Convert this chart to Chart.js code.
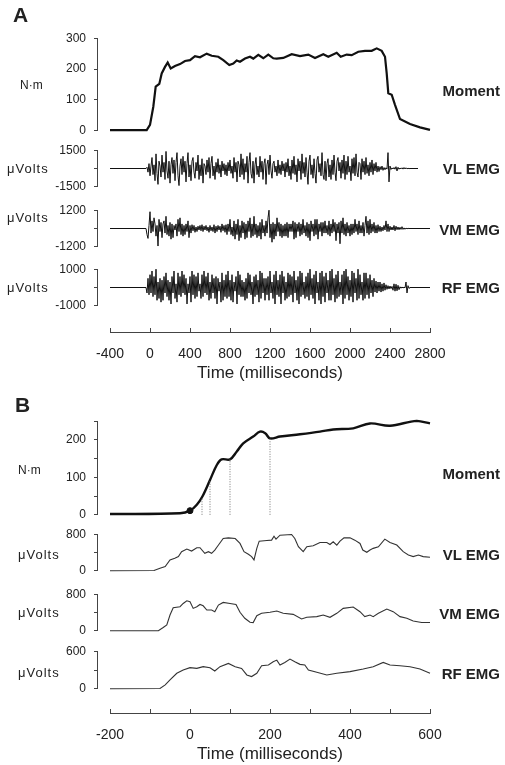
<!DOCTYPE html>
<html>
<head>
<meta charset="utf-8">
<script src="https://cdn.jsdelivr.net/npm/chart.js@4.4.1/dist/chart.umd.min.js"></script>
<style>
  body { margin: 0; background: #fff; }
  #fig { position: relative; width: 505px; height: 765px; overflow: hidden;
         font-family: "Liberation Sans", Arial, Helvetica, sans-serif; color: #222; }
  canvas { position: absolute; left: 0; }
  .lbl { position: absolute; line-height: 1; white-space: nowrap; transform: translateY(-50%); z-index: 2; }
  .unit { font-size: 12px; }
  .uv { font-size: 13px; letter-spacing: 1px; }
  .name { font-size: 15px; font-weight: bold; right: 5px; }
  .panel { font-size: 21px; font-weight: bold; transform: none; }
</style>
</head>
<body>
<div id="fig">
  <div class="lbl panel" style="left:13px;top:4px">A</div>
  <div class="lbl panel" style="left:15px;top:394px">B</div>

  <div class="lbl unit" style="left:20px;top:85px">N·m</div>
  <div class="lbl uv" style="left:7px;top:168px">μVolts</div>
  <div class="lbl uv" style="left:7px;top:217px">μVolts</div>
  <div class="lbl uv" style="left:7px;top:287px">μVolts</div>
  <div class="lbl name" style="top:90px">Moment</div>
  <div class="lbl name" style="top:168px">VL EMG</div>
  <div class="lbl name" style="top:229px">VM EMG</div>
  <div class="lbl name" style="top:287px">RF EMG</div>

  <div class="lbl unit" style="left:18px;top:470px">N·m</div>
  <div class="lbl uv" style="left:18px;top:554px">μVolts</div>
  <div class="lbl uv" style="left:18px;top:612px">μVolts</div>
  <div class="lbl uv" style="left:18px;top:672px">μVolts</div>
  <div class="lbl name" style="top:473px">Moment</div>
  <div class="lbl name" style="top:554px">VL EMG</div>
  <div class="lbl name" style="top:613px">VM EMG</div>
  <div class="lbl name" style="top:673px">RF EMG</div>
</div>
<script>
// ---------- Panel A: whole contraction ----------
const momentTimeA = [-400, -33, 0, 33, 57, 93, 117, 150, 177, 207, 250, 300, 350, 400, 450, 500, 567, 617, 683, 733,
  793, 833, 867, 900, 950, 1000, 1033, 1083, 1133, 1183, 1233, 1267, 1333, 1417, 1500, 1583, 1650, 1733, 1783, 1867,
  1907, 1967, 2017, 2083, 2150, 2217, 2267, 2317, 2350, 2367, 2383, 2417, 2450, 2500, 2600, 2700, 2800];
const momentA = [2, 2, 19, 78, 143, 152, 186, 207, 221, 202, 210, 216, 226, 229, 242, 238, 250, 243, 240, 229,
  213, 218, 228, 224, 234, 240, 234, 246, 235, 247, 235, 234, 236, 248, 242, 247, 236, 248, 240, 253,
  240, 247, 245, 256, 259, 259, 267, 259, 240, 186, 122, 117, 84, 38, 22, 11, 3];

// raw EMG, sampled every 10 ms from -40 ms (one row = 200 ms); flat baseline before and after
const recordStartA = -400;
const emgStartA = -40;
const emgStepA = 10;
const vlEndA = 2680, vmEndA = 2800, rfEndA = 2800;
const vlRawA = [
  0, 100, -300, 400, -600, 200, 900, -500, 300, -1000, 1200, -400, -1300, 600, 200, -700, 1100, -300, 500, -900,
  1400, -200, -800, 600, -1200, 300, 900, -400, 700, -1000, 500, 1300, -600, -1400, 200, 800, -500, 1000, -300, 600,
  -1100, 400, 1300, -700, 300, -1000, 600, 900, -300, -800, 500, -200, 1100, -900, 300, -600, 800, -1200, 400, 200,
  -500, 700, -300, 900, -800, 400, 1000, -600, 200, -900, 500, -300, 800, -400, 300, -700, 600, -200, 400, -500,
  300, -600, 500, -200, 700, -400, 200, -800, 900, -300, 500, -1100, 600, 300, -700, 1200, -500, 800, -900, 400,
  -300, 1000, -1200, 500, 1300, -400, -800, 600, -1200, 300, 900, -500, 200, -700, 1000, -300, 600, -900, 400, 800,
  -1300, 300, 700, -500, 1100, -200, -800, 400, 600, -300, 200, -600, 700, -400, 300, -500, 600, -200, 400, -700,
  500, -300, 800, -600, 200, -900, 700, -400, 1000, -500, 300, -1100, 800, -200, 600, -900, 1200, -400, 500, -700,
  900, -300, -1300, 600, 1100, -500, 300, -800, 800, -400, -1200, 700, 1000, -300, 400, -600, 1300, -500, -900, 600,
  -1000, 400, 800, -700, 300, -900, 700, -500, 1100, -300, -1000, 600, 900, -200, 500, -800, 700, -400, 1100, -900,
  600, -500, 1000, -300, 200, -1000, 800, -400, 900, -600, 1200, -300, -700, 500, 400, -900, 800, -300, 600, -500,
  900, -400, 300, -600, 500, -300, 700, -500, 400, -200, 500, -300, 200, -250, 150, -100, 200, -150, 80, -100,
  60, -50, 1300, -1100, 200, -80, 50, -40, 80, -60, 150, -200, 100, -60, 40, -30, 60, -50, 80, -40,
  60, -30, 20, -10, 0];
const vmRawA = [
  0, -400, -650, 200, 1100, -300, 500, -200, 700, 300, -500, 200, -1150, 600, -200, 400, -600, 300, 500, -300,
  800, -400, 200, -500, 400, -700, 300, -600, 200, -100, 300, -500, 600, -200, 700, -400, 300, -500, 200, -400,
  300, -200, 500, -600, 200, -300, 250, -150, 200, -250, 100, -200, 150, -100, 200, -150, 250, -200, 150, -100,
  200, -150, 100, -250, 200, -150, 100, -200, 250, -300, 150, -200, 200, -100, 150, -250, 300, -150, 200, -250,
  250, -400, 300, -200, 600, -400, 100, -500, 500, -700, 300, -400, 600, -800, 200, -600, 500, -300, 400, -700,
  300, -600, 500, -200, 700, -600, 300, -500, 800, -400, 300, -600, 200, -500, 400, -700, 600, -300, 200, -500,
  500, -300, 700, 1200, -600, 300, -900, 400, -700, 300, -500, 700, -200, 400, -500, 300, -600, 200, -500, 300,
  -500, 400, -600, 300, -200, 300, -200, 500, -700, 400, -600, 300, -200, 400, -500, 300, -400, 600, -300, 200,
  -500, 400, -600, 300, -800, 500, -200, 300, -500, 600, -400, 600, -700, 300, -200, 400, -500, 400, -300, 500,
  -300, 200, -400, 500, -500, 300, -300, 600, -200, 400, -800, 300, -300, 400, -1000, 500, -300, 700, -400, 300,
  -500, 400, -300, 200, -500, 300, -400, 300, -300, 600, -200, 300, -400, 500, -300, 200, -300, 400, -500, 200,
  800, -300, 500, -400, 600, -300, 300, -200, 400, -300, 200, -300, 250, -200, 150, -200, 100, -150, 200, -100,
  500, -200, 300, -200, 150, -100, 100, -100, 200, -150, 150, -80, 100, -80, 80, -60, 120, -60, 40, -50,
  30, -20, 10, 0, 0];
const rfRawA = [
  0, -300, 500, -400, 700, -300, 900, -500, 600, -400, 1000, -700, 300, -600, 500, -800, 400, -700, 600, -300,
  800, -500, 400, -700, 300, -900, 600, -300, 900, -600, 200, -800, 800, -400, 600, -500, 900, -300, 700, -400,
  500, -900, 200, -300, 600, -800, 900, -400, 700, -600, 600, -500, 800, -200, 200, -600, 700, -500, 900, -300,
  600, -400, 800, -700, 300, -600, 700, -300, 500, -600, 600, -900, 500, -200, 300, -800, 800, -700, 400, -500,
  700, -600, 900, -500, 400, -700, 700, -800, 300, -200, 600, -900, 900, -400, 700, -500, 400, -500, 300, -700,
  500, -600, 800, -300, 700, -400, 300, -900, 600, -500, 700, -400, 400, -800, 900, -600, 800, -300, 500, -700,
  500, -400, 600, -700, 900, -300, 300, -600, 700, -900, 900, -400, 400, -500, 700, -900, 900, -300, 600, -700,
  300, -600, 800, -500, 700, -400, 600, -800, 900, -300, 400, -700, 600, -900, 900, -500, 800, -400, 300, -600,
  600, -500, 800, -700, 1000, -400, 500, -600, 700, -900, 900, -300, 300, -700, 800, -900, 900, -500, 600, -800,
  800, -300, 400, -700, 900, -700, 1000, -400, 500, -800, 700, -600, 900, -500, 300, -400, 700, -900, 900, -600,
  1000, -400, 600, -700, 400, -500, 900, -800, 800, -300, 500, -700, 1000, -600, 700, -400, 300, -700, 800, -600,
  800, -400, 500, -600, 700, -300, 400, -500, 500, -250, 350, -300, 300, -200, 300, -250, 200, -200, 250, -150,
  150, -100, 100, -80, 80, -60, 60, -150, 200, -200, 180, -180, 120, -120, 40, -40, 30, -30, 20, -20,
  300, -300, 100, -50, 0];

// ---------- Panel B: onset, smoothed EMG ----------
const momentTimeB = [-200, -25, 0, 17, 31, 50, 67, 79, 100, 117, 133, 158, 175, 188, 200, 225, 275, 325, 358, 408, 450, 500, 567, 600];
const momentB = [2, 4, 11, 27, 49, 93, 133, 148, 148, 169, 191, 209, 222, 218, 204, 209, 215, 222, 228, 231, 244, 238, 251, 244];
const onsetTime = [0];
const onsetMoment = [11];
const rfdTimes = [30, 50, 100, 200];
const rfdMoments = [46, 92, 148, 204];

const vlTimeB = [-200, -90, -75, -62, -50, -38, -29, -21, -8, 4, 17, 25, 37, 46, 54, 62, 68, 83, 96, 113,
  125, 135, 146, 154, 160, 167, 173, 192, 204, 210, 215, 225, 254, 262, 271, 283, 292, 308, 325, 342,
  350, 358, 367, 375, 385, 400, 412, 425, 432, 442, 450, 458, 471, 487, 500, 517, 533, 546, 558, 571, 583, 600];
const vlB = [0, 5, 58, 94, 238, 274, 310, 418, 476, 432, 505, 505, 382, 418, 382, 454, 526, 706, 720, 706,
  598, 418, 360, 310, 238, 490, 648, 663, 670, 757, 692, 778, 793, 706, 526, 418, 526, 547, 620, 620,
  576, 634, 562, 648, 720, 720, 670, 598, 454, 404, 454, 490, 526, 692, 620, 562, 418, 346, 310, 346, 310, 295];

const vmTimeB = [-200, -79, -67, -58, -50, -42, -25, -17, -8, 0, 8, 17, 25, 33, 42, 54, 62, 71, 83, 100,
  115, 125, 137, 150, 158, 167, 179, 200, 217, 233, 258, 279, 292, 317, 333, 350, 367, 383, 408, 425,
  437, 450, 458, 471, 492, 508, 525, 542, 558, 579, 600];
const vmB = [0, 0, 72, 130, 346, 504, 526, 598, 655, 634, 490, 526, 576, 547, 454, 454, 418, 562, 620, 598,
  576, 404, 274, 187, 180, 331, 382, 404, 432, 382, 360, 259, 295, 310, 346, 295, 382, 490, 519, 418,
  310, 346, 310, 382, 476, 418, 310, 274, 216, 180, 180];

const rfTimeB = [-200, -75, -62, -50, -33, -17, 0, 17, 33, 50, 62, 75, 96, 113, 129, 142, 154, 167, 179, 196,
  208, 217, 225, 237, 250, 262, 275, 287, 296, 317, 342, 367, 400, 433, 458, 483, 500, 525, 550, 575, 600];
const rfB = [0, 5, 63, 142, 248, 300, 337, 326, 353, 337, 284, 353, 405, 353, 326, 221, 195, 248, 369, 379,
  432, 458, 379, 421, 474, 432, 390, 379, 300, 263, 221, 248, 274, 316, 353, 421, 379, 369, 353, 316, 248];

// ---------- drawing ----------
Chart.defaults.font.family = '"Liberation Sans", Arial, Helvetica, sans-serif';
Chart.defaults.color = '#222';
const fig = document.getElementById('fig');
const INK = '#111';
const AXIS = '#444';

const pts = (xs, ys) => xs.map((x, i) => ({ x, y: ys[i] }));
function rawPts(values, end) {
  const out = [{ x: recordStartA, y: 0 }];
  values.forEach((v, i) => out.push({ x: emgStartA + i * emgStepA, y: v }));
  out.push({ x: end, y: 0 });
  return out;
}
const line = (data, width, color, extra) => Object.assign({
  data, borderColor: color || INK, borderWidth: width, pointRadius: 0, tension: 0, clip: false
}, extra || {});

function addCanvas(top, h) {
  const c = document.createElement('canvas');
  c.width = 505; c.height = h;
  c.style.top = top + 'px';
  fig.appendChild(c);
  return c;
}

// one stacked trace: y axis spans exactly yMin..yMax between pixel rows top..bottom
function trace(top, bottom, yMin, yMax, yStep, shown, xMin, xMax, makeDatasets) {
  const c = addCanvas(0, 200);
  const cfg = () => ({
    type: 'line',
    data: { datasets: makeDatasets() },
    options: {
      responsive: false, maintainAspectRatio: false, animation: false, devicePixelRatio: 1,
      layout: { padding: { top: 0, bottom: 0, left: 0, right: 75 } },
      plugins: { legend: { display: false }, tooltip: { enabled: false } },
      scales: {
        x: { type: 'linear', display: false, min: xMin, max: xMax },
        y: {
          min: yMin, max: yMax,
          afterFit: s => { s.width = 97; },
          ticks: { stepSize: yStep, autoSkip: false, padding: 8, font: { size: 12 }, color: '#222',
                   callback: v => shown.includes(v) ? String(v) : '' },
          grid: { drawOnChartArea: false, tickLength: 3, color: AXIS },
          border: { color: AXIS, width: 1 }
        }
      }
    }
  });
  // first pass measures how much room the axis labels take above/below the plot area
  let ch = new Chart(c, cfg());
  const offTop = ch.chartArea.top;
  const offBot = 200 - ch.chartArea.bottom;
  ch.destroy();
  c.height = Math.round(bottom - top + offTop + offBot);
  c.style.top = (top - offTop) + 'px';
  new Chart(c, cfg());
}

// time axis with inward ticks, title underneath
function timeAxis(axisY, xMin, xMax, step, every) {
  const tick = 4, h = 56;
  const c = addCanvas(axisY - tick, tick + h);
  new Chart(c, {
    type: 'line',
    data: { datasets: [] },
    options: {
      responsive: false, animation: false, devicePixelRatio: 1,
      layout: { padding: { top: 0, bottom: 0, left: 110, right: 75 } },
      plugins: { legend: { display: false }, tooltip: { enabled: false } },
      scales: {
        y: { display: false },
        x: {
          type: 'linear', min: xMin, max: xMax,
          afterFit: s => { s.height = h; },
          ticks: { stepSize: step, autoSkip: false, maxRotation: 0, padding: 14, font: { size: 14 }, color: '#222',
                   callback: v => v % every === 0 ? String(v) : '' },
          grid: { drawOnChartArea: true, drawTicks: false, color: AXIS },
          border: { color: AXIS, width: 1 },
          title: { display: true, text: 'Time (milliseconds)', font: { size: 17 }, color: '#222',
                   padding: { top: 4, bottom: 4 } }
        }
      }
    }
  });
}

// Panel A
const xA = [-530, 2800];
trace(38, 131, 0, 300, 100, [0, 100, 200, 300], xA[0], xA[1], () => [line(pts(momentTimeA, momentA), 2.2)]);
trace(150, 187, -1500, 1500, 1500, [-1500, 1500], xA[0], xA[1], () => [line(rawPts(vlRawA, vlEndA), 1)]);
trace(210, 247, -1200, 1200, 1200, [-1200, 1200], xA[0], xA[1], () => [line(rawPts(vmRawA, vmEndA), 1)]);
trace(269, 306, -1000, 1000, 1000, [-1000, 1000], xA[0], xA[1], () => [line(rawPts(rfRawA, rfEndA), 1)]);
timeAxis(332, -400, 2800, 400, 400);

// Panel B
const xB = [-232.5, 600];
trace(421, 515, 0, 250, 50, [0, 100, 200], xB[0], xB[1], () => [
  ...rfdTimes.map((t, i) =>
    line([{ x: t, y: 0 }, { x: t, y: rfdMoments[i] }], 1, '#777', { borderDash: [1, 1.5] })),
  line(pts(momentTimeB, momentB), 2.4, INK, { tension: 0.35 }),
  { data: pts(onsetTime, onsetMoment), showLine: false, pointRadius: 3, pointBackgroundColor: INK,
    pointBorderColor: INK, clip: false }
]);
trace(534, 571, 0, 800, 400, [0, 800], xB[0], xB[1], () => [line(pts(vlTimeB, vlB), 1.1, '#333')]);
trace(594, 631, 0, 800, 400, [0, 800], xB[0], xB[1], () => [line(pts(vmTimeB, vmB), 1.1, '#333')]);
trace(651, 689, 0, 600, 300, [0, 600], xB[0], xB[1], () => [line(pts(rfTimeB, rfB), 1.1, '#333')]);
timeAxis(713, -200, 600, 100, 200);
</script>
</body>
</html>
